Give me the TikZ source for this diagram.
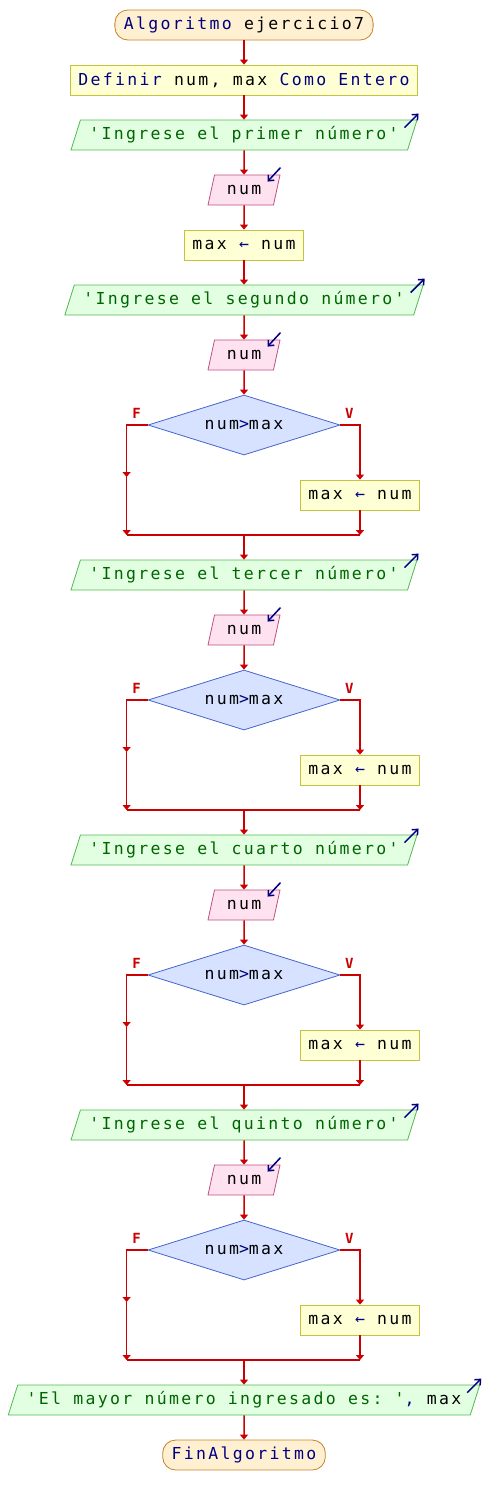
\documentclass[tikz,border=0pt]{standalone}
\usepackage{fontspec}
\setmonofont[LetterSpace=14]{DejaVu Sans Mono}
\usepackage{tikz}
\usetikzlibrary{shapes.geometric,arrows.meta,positioning}
\tikzstyle{terminal} = [rectangle, rounded corners=13pt, minimum height=30pt, inner xsep=9pt, line width=0.8pt, draw=termline, fill=termfill]
\tikzstyle{process} = [rectangle, minimum height=30pt, inner xsep=7.5pt, line width=0.8pt, draw=procline, fill=procfill]
\tikzstyle{io} = [trapezium, trapezium left angle=68, trapezium right angle=112, trapezium stretches body, minimum height=30pt, inner xsep=9pt, line width=0.8pt, draw=outline, fill=outfill]
\tikzstyle{input} = [io, minimum width=72pt, draw=inline, fill=infill]
\tikzstyle{decision} = [diamond, aspect=3.2, minimum width=192pt, minimum height=60pt, inner sep=0pt, line width=0.8pt, draw=decline, fill=decfill]
\tikzstyle{arrow} = [line width=1.5pt, draw=flow, -{Triangle[width=8pt,length=5pt]}]
\tikzstyle{link} = [line width=1.5pt, draw=flow]
\tikzstyle{icon} = [line width=1.5pt, draw=kwblue, -{Straight Barb[width=8pt,length=4.5pt]}]
\tikzstyle{branch} = [font=\fontsize{14}{14}\selectfont\ttfamily\bfseries, text=flow]
\definecolor{termfill}{RGB}{255,240,210}
\definecolor{termline}{RGB}{200,130,40}
\definecolor{procfill}{RGB}{255,255,213}
\definecolor{procline}{RGB}{195,195,60}
\definecolor{outfill}{RGB}{226,255,226}
\definecolor{outline}{RGB}{80,185,80}
\definecolor{infill}{RGB}{255,226,240}
\definecolor{inline}{RGB}{190,80,130}
\definecolor{decfill}{RGB}{214,226,255}
\definecolor{decline}{RGB}{70,100,205}
\definecolor{flow}{RGB}{204,0,0}
\definecolor{kwblue}{RGB}{0,0,128}
\definecolor{strgreen}{RGB}{0,100,0}
\newcommand{\kw}[1]{\textcolor{kwblue}{#1}}
\newcommand{\strg}[1]{\textcolor{strgreen}{#1}}
\begin{document}
\begin{tikzpicture}[x=1pt, y=1pt, node distance=55pt, font=\fontsize{16.5}{18}\selectfont\ttfamily]
\useasboundingbox (0,0) rectangle (488,-1505);
\node (start) [terminal] at (244,-25) {\kw{Algoritmo} ejercicio7};
\node (def) [process, below of=start] {\kw{Definir} num, max \kw{Como Entero}};
\node (out1) [io, below of=def] {\strg{'Ingrese el primer número'}};
\node (in1) [input, below of=out1] {num};
\node (asg) [process, below of=in1] {max \kw{←} num};
\node (out2) [io, below of=asg] {\strg{'Ingrese el segundo número'}};
\node (in2) [input, below of=out2] {num};
% primer si
\node (dec1) [decision, below of=in2, yshift=-15pt] {num\kw{>}max};
\node (asg1) [process, below of=dec1, xshift=116pt, yshift=-15pt] {max \kw{←} num};
\coordinate [below of=dec1, yshift=-55pt] (join1);
\node (out3) [io, below of=join1, yshift=15pt] {\strg{'Ingrese el tercer número'}};
\node (in3) [input, below of=out3] {num};
% segundo si
\node (dec2) [decision, below of=in3, yshift=-15pt] {num\kw{>}max};
\node (asg2) [process, below of=dec2, xshift=116pt, yshift=-15pt] {max \kw{←} num};
\coordinate [below of=dec2, yshift=-55pt] (join2);
\node (out4) [io, below of=join2, yshift=15pt] {\strg{'Ingrese el cuarto número'}};
\node (in4) [input, below of=out4] {num};
% tercer si
\node (dec3) [decision, below of=in4, yshift=-15pt] {num\kw{>}max};
\node (asg3) [process, below of=dec3, xshift=116pt, yshift=-15pt] {max \kw{←} num};
\coordinate [below of=dec3, yshift=-55pt] (join3);
\node (out5) [io, below of=join3, yshift=15pt] {\strg{'Ingrese el quinto número'}};
\node (in5) [input, below of=out5] {num};
% cuarto si
\node (dec4) [decision, below of=in5, yshift=-15pt] {num\kw{>}max};
\node (asg4) [process, below of=dec4, xshift=116pt, yshift=-15pt] {max \kw{←} num};
\coordinate [below of=dec4, yshift=-55pt] (join4);
\node (out6) [io, below of=join4, yshift=15pt] {\strg{'El mayor número ingresado es: '}\kw{,} max};
\node (end) [terminal, below of=out6] {\kw{FinAlgoritmo}};
\draw[arrow] (start) -- (def);
\draw[arrow] (def) -- (out1);
\draw[arrow] (out1) -- (in1);
\draw[arrow] (in1) -- (asg);
\draw[arrow] (asg) -- (out2);
\draw[arrow] (out2) -- (in2);
\draw[arrow] (in2) -- (dec1);
\draw[arrow] (join1) -- (out3);
\draw[arrow] (out3) -- (in3);
\draw[arrow] (in3) -- (dec2);
\draw[arrow] (join2) -- (out4);
\draw[arrow] (out4) -- (in4);
\draw[arrow] (in4) -- (dec3);
\draw[arrow] (join3) -- (out5);
\draw[arrow] (out5) -- (in5);
\draw[arrow] (in5) -- (dec4);
\draw[arrow] (join4) -- (out6);
\draw[arrow] (out6) -- (end);
\foreach \d/\a/\j in {dec1/asg1/join1, dec2/asg2/join2, dec3/asg3/join3, dec4/asg4/join4}{
  \coordinate (\d f) at ([xshift=-21pt, yshift=-52pt]\d.west);
  \node[branch] (\d lf) at ([xshift=-11pt, yshift=12pt]\d.west) {F};
  \node[branch] (\d lv) at ([xshift=9pt, yshift=12pt]\d.east) {V};
  \draw[arrow] (\d.west) -| (\d f);
  \draw[arrow] (\d f) -- (\d f |- \j);
  \draw[arrow] (\d.east) -| (\a);
  \draw[arrow] (\a) -- (\a |- \j);
  \draw[link] (\d f |- \j) -- (\a |- \j);
}
\foreach \o in {out1, out2, out3, out4, out5, out6}
  \draw[icon] ([xshift=-13pt, yshift=-8pt]\o.top right corner) -- ([xshift=1pt, yshift=6pt]\o.top right corner);
\foreach \i in {in1, in2, in3, in4, in5}
  \draw[icon] ([yshift=7pt]\i.top right corner) -- ([xshift=-13pt, yshift=-7pt]\i.top right corner);
\end{tikzpicture}
\end{document}
